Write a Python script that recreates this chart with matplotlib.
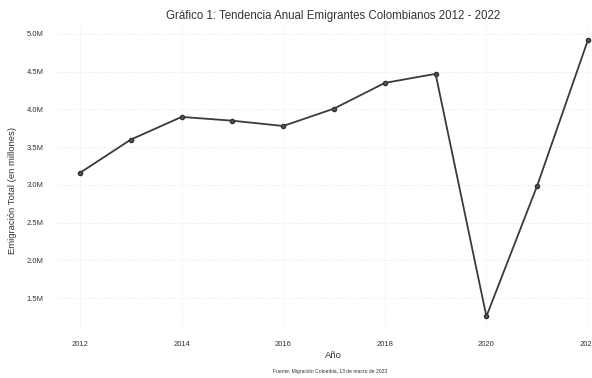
import matplotlib
matplotlib.use("Agg")
from matplotlib import pyplot as plt
from matplotlib.ticker import FuncFormatter

# datos (millones de emigrantes)
anios = [2012, 2013, 2014, 2015, 2016, 2017, 2018, 2019, 2020, 2021, 2022]
emigrantes = [3.16, 3.60, 3.90, 3.85, 3.78, 4.01, 4.35, 4.47, 1.26, 2.99, 4.92]
ticks_x = [2012, 2014, 2016, 2018, 2020, 2022]
ticks_y = [1.5, 2.0, 2.5, 3.0, 3.5, 4.0, 4.5, 5.0]

plt.rcParams['font.family'] = ['Liberation Sans', 'DejaVu Sans']

fig = plt.figure(figsize=(5.92, 3.78), dpi=100)
# el eje se sale por la derecha, como en la imagen original recortada
ax = fig.add_axes([54.6 / 592, 1 - 330 / 378, 558.8 / 592, 303 / 378])

ax.plot(anios, emigrantes, color='#3a3a3a', linewidth=1.3,
        marker='o', markersize=3, markerfacecolor='#555555',
        markeredgecolor='#333333')

ax.set_xlim(2011.5, 2022.5)
ax.set_ylim(1.08, 5.09)
ax.set_xticks(ticks_x)
ax.set_yticks(ticks_y)
ax.yaxis.set_major_formatter(FuncFormatter(lambda v, p: f"{v:.1f}M"))
ax.tick_params(length=0, labelsize=5.5, colors='#333333', pad=8)
ax.grid(True, color='#e4e4e4', linewidth=0.6, linestyle=':')
for s in ax.spines.values():
    s.set_visible(False)

fig.text(333 / 592, 1 - 16 / 378, "Gráfico 1: Tendencia Anual Emigrantes Colombianos 2012 - 2022",
         ha='center', va='center', fontsize=8.3, color='#333333')
fig.text(13 / 592, 1 - 190 / 378, "Emigración Total (en millones)", rotation=90,
         ha='center', va='center', fontsize=6.8, color='#333333')
fig.text(333 / 592, 1 - 355 / 378, "Año", ha='center', va='center',
         fontsize=6.8, color='#333333')
fig.text(330 / 592, 1 - 372 / 378, "Fuente: Migración Colombia, 13 de marzo de 2023",
         ha='center', va='center', fontsize=3.6, color='#333333')

fig.savefig("out.png", dpi=100)
